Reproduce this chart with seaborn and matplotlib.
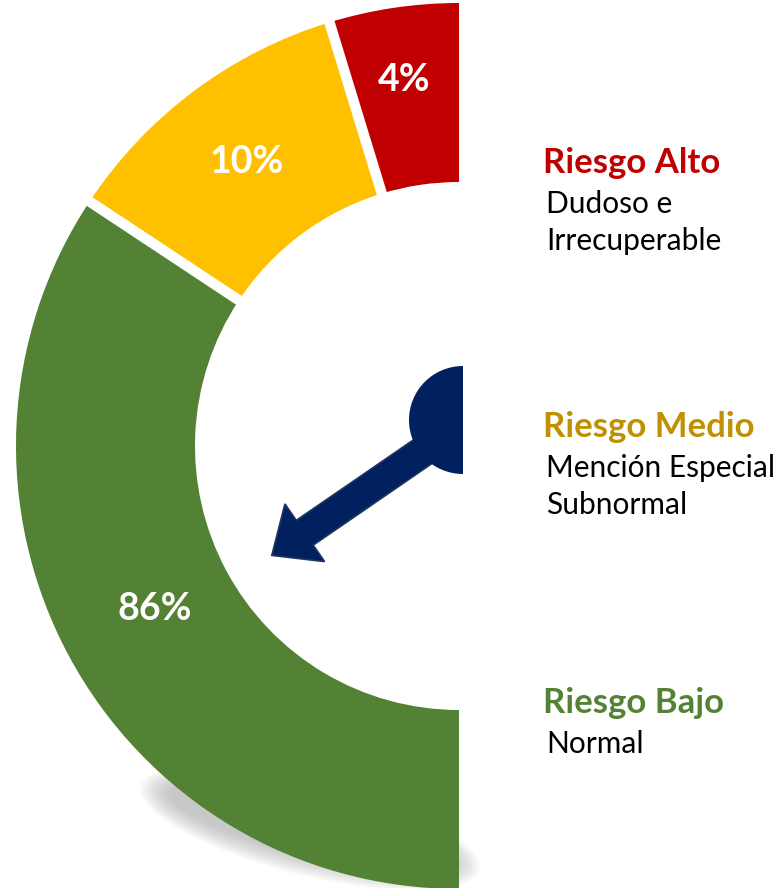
import numpy as np
import matplotlib
matplotlib.use("Agg")
import matplotlib.pyplot as plt
from matplotlib.patches import Wedge, Ellipse
import seaborn as sns

# ---- data ----
categories = ["Riesgo Alto", "Riesgo Medio", "Riesgo Bajo"]
shares = [4, 10, 86]
share_labels = ["4%", "10%", "86%"]
descriptions = [["Dudoso e", "Irrecuperable"],
                ["Mención Especial", "Subnormal"],
                ["Normal"]]
# visual angular width (degrees) of each gauge band as drawn in the reference
band_span = [17.0, 39.5, 123.5]

# ---- style ----
sns.set_theme(style="white")
plt.rcParams["font.family"] = ["Lato", "DejaVu Sans"]
band_colors = ["#C00000", "#FFC000", "#548235"]
title_colors = ["#C00000", "#BF9000", "#548235"]
navy = "#002060"

W, H = 780, 888
fig = plt.figure(figsize=(W / 100, H / 100), dpi=100)
ax = fig.add_axes([0, 0, 1, 1])
ax.set_xlim(0, W)
ax.set_ylim(0, H)
ax.set_aspect("equal")
ax.axis("off")

cx, cy = 459, H - 446
R_out, R_in = 443, 264

# soft shadow under the gauge
for k in range(14):
    f = k / 13
    ax.add_patch(Ellipse((310, H - 828), 350 - 60 * f, 96 - 40 * f, angle=-14,
                         facecolor="#a0a0a0", edgecolor="none", alpha=0.05, zorder=1))

# bands
start = 90.0
bounds = []
for span, col in zip(band_span, band_colors):
    end = start + span
    ax.add_patch(Wedge((cx, cy), R_out, start, end, width=R_out - R_in,
                       facecolor=col, edgecolor="none", zorder=2))
    mid = np.deg2rad((start + end) / 2)
    bounds.append((start, end, mid))
    start = end

# white gaps between bands
for (_, end, _) in bounds[:-1]:
    a = np.deg2rad(end)
    ax.plot([cx + (R_in - 5) * np.cos(a), cx + (R_out + 5) * np.cos(a)],
            [cy + (R_in - 5) * np.sin(a), cy + (R_out + 5) * np.sin(a)],
            color="white", lw=7.5, solid_capstyle="butt", zorder=3)

# percentage labels
lab_r = [370, 355, 345]
for (s, e, mid), txt, rr in zip(bounds, share_labels, lab_r):
    ax.text(cx + rr * np.cos(mid), cy + rr * np.sin(mid), txt, color="white",
            fontsize=27, fontweight="bold", ha="center", va="center", zorder=4)

# needle
hub = (463, H - 420)
needle_angle = np.deg2rad(214.5)
needle_len = 210
start_off = 22
sx = hub[0] + start_off * np.cos(needle_angle)
sy = hub[1] - 4 + start_off * np.sin(needle_angle)
ax.arrow(sx, sy, needle_len * np.cos(needle_angle), needle_len * np.sin(needle_angle),
         width=30, head_width=70, head_length=40, length_includes_head=True,
         facecolor=navy, edgecolor="#1f3560", lw=1.2, zorder=5)
ax.add_patch(Wedge(hub, 54, 90, 270, facecolor=navy, edgecolor="none", zorder=6))

# legend texts on the right
title_y = [H - 163, H - 427, H - 703]
for cat, col, ty, desc in zip(categories, title_colors, title_y, descriptions):
    ax.text(543, ty, cat, color=col, fontsize=25, fontweight="bold",
            ha="left", va="center")
    for j, line in enumerate(desc):
        ax.text(546, ty - 41 - 37 * j, line, color="black", fontsize=21.5,
                ha="left", va="center")

fig.savefig("out.png", dpi=100, facecolor="white")
